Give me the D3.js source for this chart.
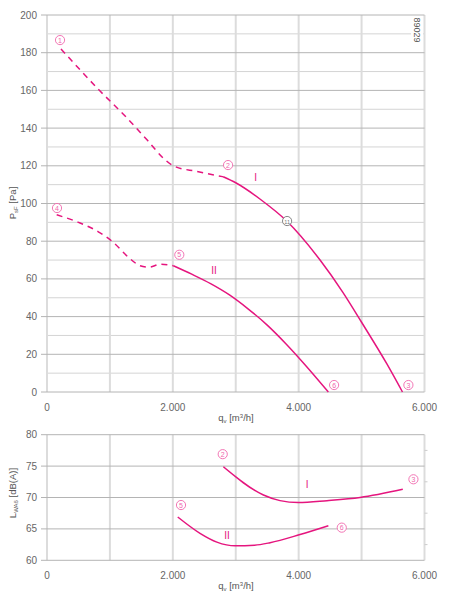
<!DOCTYPE html>
<html><head><meta charset="utf-8">
<script src="https://cdn.jsdelivr.net/npm/d3@7"></script>
<style>body{margin:0;background:#fff}svg{display:block}</style>
</head><body><svg id="c" width="454" height="595"></svg>
<script>
// ---- data ----
const qTicks = [0, 2000, 4000, 6000];
const qTickLabels = ["0", "2.000", "4.000", "6.000"];
const pTicks = [0, 20, 40, 60, 80, 100, 120, 140, 160, 180, 200];
const lTicks = [60, 65, 70, 75, 80];

// Pressure curve I
const curveIDashQ = [222, 816, 1267, 1610, 1850, 2008, 2380, 2800];
const curveIDashP = [182, 160.6, 145.5, 133, 124, 120, 117, 114.2];
const curveISolidQ = [2800, 3000, 3400, 3810, 4340, 4700, 5000, 5400, 5650];
const curveISolidP = [114.2, 111, 102, 90.7, 70, 53, 37, 15, 0];
// Pressure curve II
const curveIIDashQ = [154, 500, 816, 1050, 1293, 1480, 1620, 1800, 2008];
const curveIIDashP = [94, 90, 85, 79.5, 71.5, 67, 66.2, 67.8, 67];
const curveIISolidQ = [2008, 2300, 2600, 2900, 3200, 3500, 3800, 4100, 4472];
const curveIISolidP = [67, 62.5, 57.5, 51.5, 44, 35.5, 25.5, 14.5, 0];
// Sound curves
const soundIQ = [2803, 3440, 3704, 3995, 4450, 4976, 5655];
const soundIL = [74.9, 70.4, 69.5, 69.2, 69.5, 70.0, 71.3];
const soundIIQ = [2078, 2432, 2700, 2989, 3300, 3545, 4022, 4472];
const soundIIL = [66.9, 64.3, 62.9, 62.3, 62.4, 62.8, 64.1, 65.5];

// annotations (data coordinates)
const topMarks = [
  {t:"1", q:207, v:186.7}, {t:"2", q:2878, v:120.4}, {t:"3", q:5744, v:3.7},
  {t:"4", q:159, v:97.6}, {t:"5", q:2103, v:72.8}, {t:"6", q:4563, v:3.7}
];
const opPoint = {t:"11", q:3816, v:90.7};
const topRoman = [{t:"I", q:3318, v:114}, {t:"II", q:2655, v:64.7}];
const botMarks = [
  {t:"2", q:2793, v:76.9}, {t:"3", q:5824, v:72.9},
  {t:"5", q:2130, v:68.8}, {t:"6", q:4685, v:65.2}
];
const botRoman = [{t:"I", q:4134, v:72.0}, {t:"II", q:2862, v:63.95}];

// ---- drawing ----
const svg = d3.select("#c");
const FONT = "Liberation Sans, Arial, sans-serif";
const PINK = "#e5157e", LPINK = "#f068ad";
const x = d3.scaleLinear().domain([0, 6000]).range([47, 424.5]);
const yT = d3.scaleLinear().domain([0, 200]).range([392, 15]);
const yB = d3.scaleLinear().domain([60, 80]).range([560.3, 434.7]);

function grid(y, hMajor, hMinor) {
  const g = svg.append("g");
  g.selectAll(".hm").data(hMinor).join("line")
    .attr("x1", x(0)).attr("x2", x(6000)).attr("y1", d => y(d)).attr("y2", d => y(d))
    .attr("stroke", "#d4d4d4").attr("stroke-width", 1);
  g.selectAll(".v").data(d3.range(0, 6001, 1000)).join("line")
    .attr("x1", d => x(d)).attr("x2", d => x(d))
    .attr("y1", y.range()[0]).attr("y2", y.range()[1])
    .attr("stroke", "#dcdcdc").attr("stroke-width", 2);
  g.selectAll(".hM").data(hMajor).join("line")
    .attr("x1", x(0) - 6).attr("x2", x(6000)).attr("y1", d => y(d)).attr("y2", d => y(d))
    .attr("stroke", "#b4b4b4").attr("stroke-width", 1);
  g.selectAll(".yl").data(hMajor).join("text")
    .attr("x", 37).attr("y", d => y(d) + 3.5).attr("text-anchor", "end")
    .attr("font-family", FONT).attr("font-size", 10).attr("fill", "#666").text(d => d);
  return g;
}
grid(yT, pTicks, d3.range(10, 200, 20));
grid(yB, lTicks, []);
svg.append("g").selectAll("line").data([62.5, 67.5, 72.5, 77.5]).join("line")
  .attr("x1", x(6000)).attr("x2", x(6000) + 3).attr("y1", d => yB(d)).attr("y2", d => yB(d))
  .attr("stroke", "#ccc");

function xLabels(yPos, titleY) {
  svg.append("g").selectAll("text").data(qTicks).join("text")
    .attr("x", d => x(d)).attr("y", yPos).attr("text-anchor", "middle")
    .attr("font-family", FONT).attr("font-size", 10).attr("fill", "#666")
    .text((d, i) => qTickLabels[i]);
  const t = svg.append("text").attr("x", 236).attr("y", titleY).attr("text-anchor", "middle")
    .attr("font-family", FONT).attr("font-size", 9.5).attr("fill", "#555");
  t.append("tspan").text("q");
  t.append("tspan").attr("font-size", 6).attr("dy", 2).text("v");
  t.append("tspan").attr("dy", -2).text(" [m");
  t.append("tspan").attr("font-size", 6).attr("dy", -3.5).text("3");
  t.append("tspan").attr("dy", 3.5).text("/h]");
}
xLabels(411, 421);
xLabels(579, 589);

function yTitle(cx, cy, main, sub, rest) {
  const t = svg.append("text").attr("transform", `translate(${cx},${cy}) rotate(-90)`)
    .attr("text-anchor", "middle").attr("font-family", FONT).attr("font-size", 9.5).attr("fill", "#555");
  t.append("tspan").text(main);
  t.append("tspan").attr("font-size", 6).attr("dy", 2).text(sub);
  t.append("tspan").attr("dy", -2).text(rest);
}
yTitle(16, 203, "P", "sF", " [Pa]");
yTitle(16, 493, "L", "WA6", " [dB(A)]");

svg.append("rect").attr("x", 411).attr("y", 16).attr("width", 12).attr("height", 29).attr("fill", "#fff");
svg.append("text").attr("transform", "translate(414,30) rotate(90)").attr("text-anchor", "middle")
  .attr("font-family", FONT).attr("font-size", 9).attr("fill", "#555").text("89029");

function path(qs, vs, y, dashed) {
  const line = d3.line().x(d => x(d[0])).y(d => y(d[1])).curve(d3.curveMonotoneX);
  const p = svg.append("path").datum(qs.map((q, i) => [q, vs[i]])).attr("d", line)
    .attr("fill", "none").attr("stroke", PINK).attr("stroke-width", 1.5);
  if (dashed) p.attr("stroke-dasharray", "6,5");
}
path(curveIDashQ, curveIDashP, yT, true);
path(curveISolidQ, curveISolidP, yT, false);
path(curveIIDashQ, curveIIDashP, yT, true);
path(curveIISolidQ, curveIISolidP, yT, false);
path(soundIQ, soundIL, yB, false);
path(soundIIQ, soundIIL, yB, false);

function marks(data, y, color) {
  const g = svg.append("g").selectAll("g").data(data).join("g")
    .attr("transform", d => `translate(${x(d.q)},${y(d.v)})`);
  g.append("circle").attr("r", 4.6).attr("fill", "#fff").attr("stroke", color).attr("stroke-width", 0.9);
  g.append("text").attr("y", 2.5).attr("text-anchor", "middle").attr("font-family", FONT)
    .attr("font-size", d => d.t.length > 1 ? 5.5 : 7).attr("fill", color).text(d => d.t);
}
marks(topMarks, yT, LPINK);
marks(botMarks, yB, LPINK);
marks([opPoint], yT, "#777");

function roman(data, y, color) {
  svg.append("g").selectAll("text").data(data).join("text")
    .attr("x", d => x(d.q)).attr("y", d => y(d.v) + 3.5).attr("text-anchor", "middle")
    .attr("font-family", FONT).attr("font-size", 10).attr("fill", color).text(d => d.t);
}
roman(topRoman, yT, PINK);
roman(botRoman, yB, PINK);
</script></body></html>
